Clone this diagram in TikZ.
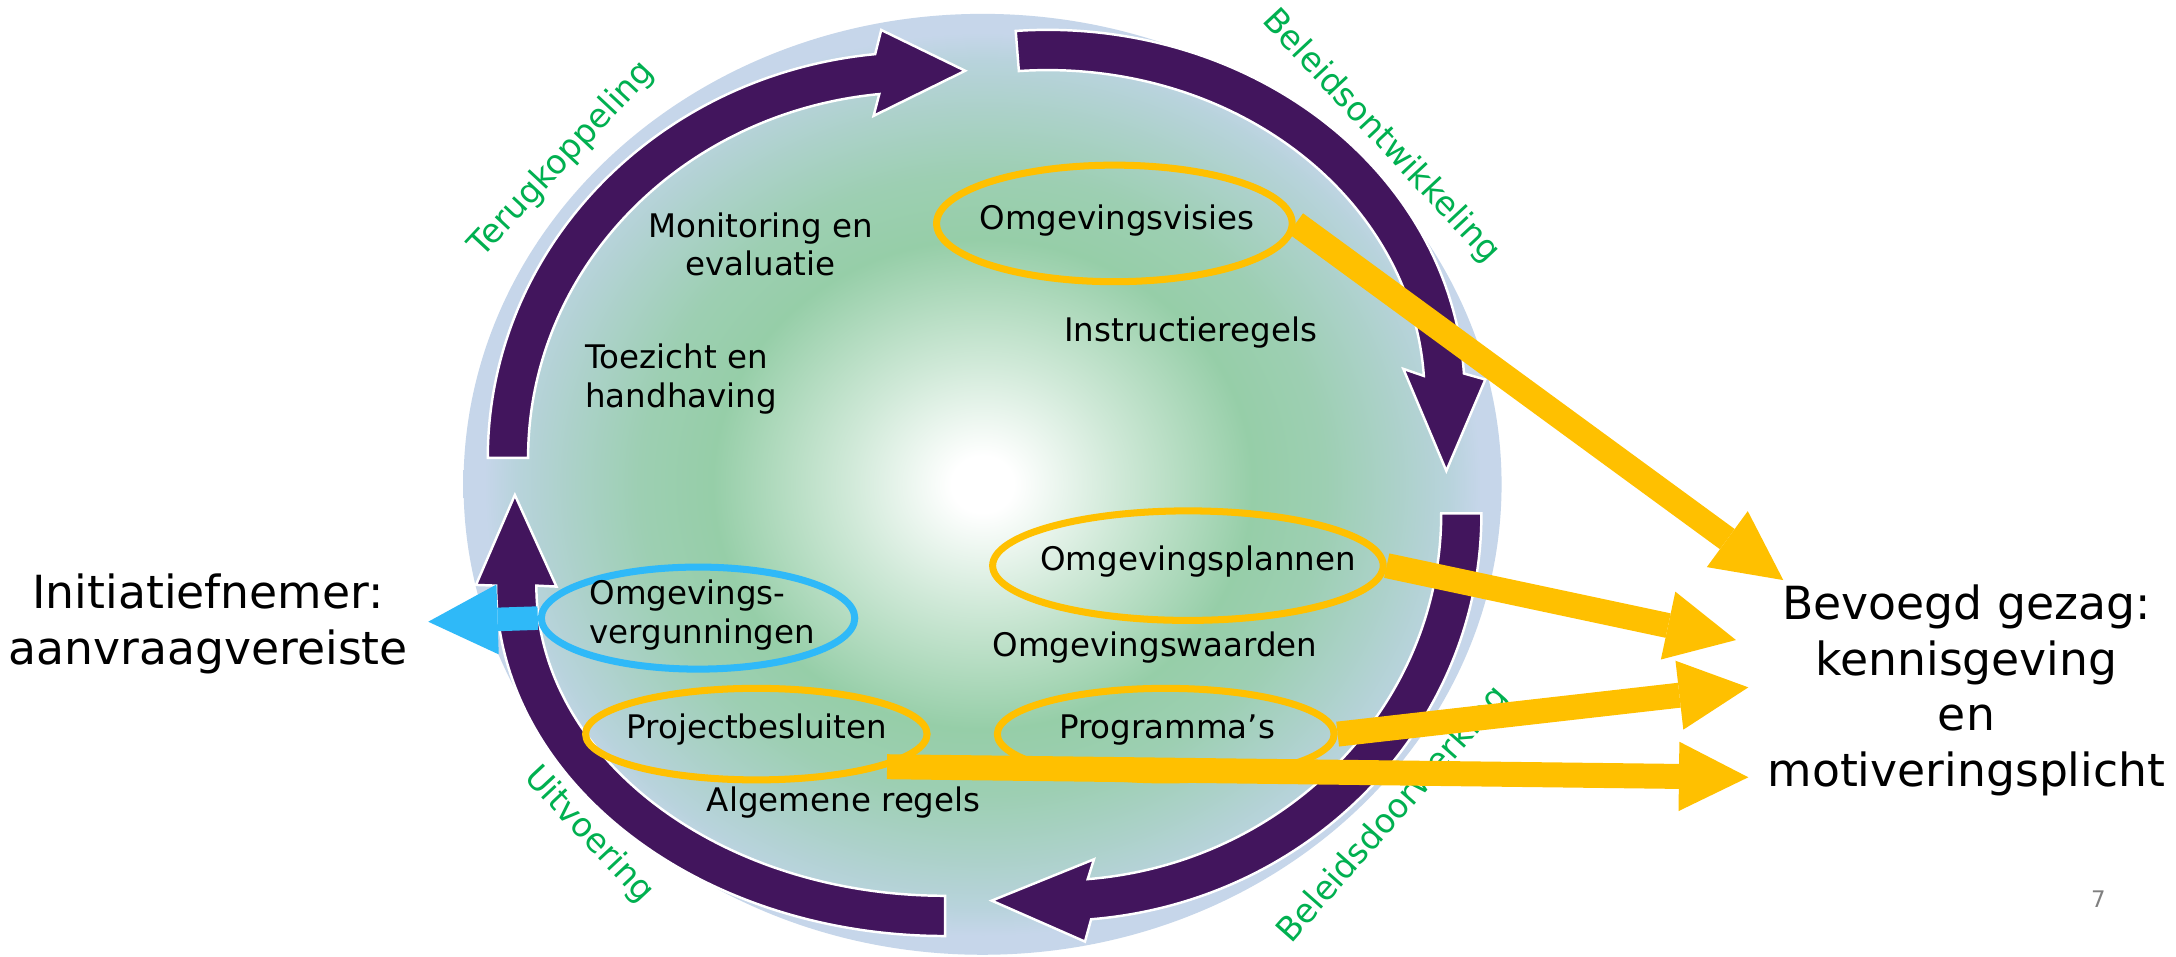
\documentclass[tikz,border=0pt]{standalone}
\usepackage{fontspec}
\setmainfont{DejaVu Sans}
\usetikzlibrary{shapes.geometric,arrows.meta}

\definecolor{cyclepurple}{RGB}{66,21,93}
\definecolor{linkyellow}{RGB}{255,192,0}
\definecolor{permitblue}{RGB}{47,185,248}
\definecolor{phasegreen}{RGB}{0,176,80}
\definecolor{discgreen}{RGB}{150,206,168}
\definecolor{discteal}{RGB}{184,211,220}
\definecolor{discrim}{RGB}{198,214,234}
\pgfdeclareradialshading{discshading}{\pgfpointorigin}{color(0bp)=(white); color(1.5bp)=(white); color(6.5bp)=(discgreen!45!white); color(13bp)=(discgreen); color(16.5bp)=(discgreen!80!discteal); color(20bp)=(discgreen!35!discteal); color(22.5bp)=(discteal); color(24bp)=(discrim); color(25bp)=(discrim); color(50bp)=(discrim)}

\begin{document}
\begin{tikzpicture}[x=0.013878cm, y=-0.013878cm,
        cyclearrow/.style={fill=cyclepurple, draw=white, line width=0.7pt, line join=miter},
        phase/.style={text=phasegreen, font=\fontsize{9.5}{11}\selectfont, inner sep=0pt},
        txt/.style={font=\fontsize{9.25}{11}\selectfont, inner sep=0pt},
        bigtxt/.style={font=\fontsize{13}{15.8}\selectfont, align=center, inner sep=0pt},
        ring/.style={ellipse, draw=linkyellow, line width=2pt, inner sep=0pt},
        yellowarrow/.style={draw=linkyellow, line width=0.25cm, -{Triangle[length=0.694cm, width=0.694cm, line width=0pt]}},
        bluearrow/.style={draw=permitblue, line width=0.236cm, -{Triangle[length=0.694cm, width=0.70cm, line width=0pt]}}
    ]
        % Background and disc
        \fill[white] (0,0) rectangle (1568,689);
        \shade[shading=discshading] (708,349) ellipse [x radius=374, y radius=339];

        % Cycle arrows
        \filldraw[cyclearrow] (351.5,330) arc[start angle=-180, end angle=-95.8, x radius=310.5, y radius=292.5]
            -- (635,21.6) -- (695.5,51) -- (629.5,83.5) -- (633.6,67.8)
            arc[start angle=-95.8, end angle=-180, x radius=281.5, y radius=263.5] -- cycle;
        \filldraw[cyclearrow] (731.9,22.3) arc[start angle=-94.4, end angle=-3.45, x radius=300.5, y radius=263.5]
            -- (1070.3,273.5) -- (1042.2,339.3) -- (1011.2,265.8) -- (1026,270.9)
            arc[start angle=-3.45, end angle=-94.4, x radius=271.5, y radius=234.5] -- cycle;
        \filldraw[cyclearrow] (1067.5,370) arc[start angle=0, end angle=85.1, x radius=307.5, y radius=293.5]
            -- (781.8,678.5) -- (714.6,649) -- (788.3,619.2) -- (783.8,633.5)
            arc[start angle=85.1, end angle=0, x radius=278.5, y radius=264.5] -- cycle;
        \filldraw[cyclearrow] (681,674.5) arc[start angle=90, end angle=180, x radius=323.5, y radius=252.5]
            -- (343,421.5) -- (371,356.7) -- (401,422.7) -- (386.5,422)
            arc[start angle=180, end angle=90, x radius=294.5, y radius=223.5] -- cycle;

        % Phase labels
        \node[phase, rotate=47] (terugkoppeling) at (405,115) {Terugkoppeling};
        \node[phase, rotate=-47] (ontwikkeling) at (995,98.5) {Beleidsontwikkeling};
        \node[phase, rotate=48.5] (doorwerking) at (1004,587.3) {Beleidsdoorwerking};
        \node[phase, rotate=-47] (uitvoering) at (424.2,601.7) {Uitvoering};

        % Instruments
        \node[txt, align=center] (monitoring) at (548,176) {Monitoring en\\evaluatie};
        \node[txt, align=left, anchor=west] (toezicht) at (421.3,273.3) {Toezicht en\\handhaving};
        \node[txt, anchor=base] (instructie) at (858,246.2) {Instructieregels};
        \node[txt, anchor=base] (waarden) at (832.3,473.2) {Omgevingswaarden};
        \node[txt, anchor=base] (regels) at (608,584.9) {Algemene regels};

        \node[ring, minimum width=3.558cm, minimum height=1.166cm] (visies) at (803,161) {};
        \node[txt, anchor=base] (visiestxt) at (805,165.7) {Omgevingsvisies};
        \node[ring, minimum width=3.908cm, minimum height=1.096cm] (plannen) at (856,407.6) {};
        \node[txt, anchor=base] (plannentxt) at (863.4,411.2) {Omgevingsplannen};
        \node[ring, draw=permitblue, minimum width=3.136cm, minimum height=1.021cm] (vergunningen) at (503,445.4) {};
        \node[txt, align=left, anchor=west] (vergunningentxt) at (424.3,443.2) {Omgevings-\\vergunningen};
        \node[ring, minimum width=3.417cm, minimum height=0.916cm] (besluiten) at (545,529) {};
        \node[txt, anchor=base] (besluitentxt) at (545.4,532) {Projectbesluiten};
        \node[ring, minimum width=3.370cm, minimum height=0.916cm] (programmas) at (840,529) {};
        \node[txt, anchor=base] (programmastxt) at (841,532) {Programma’s};

        % Outside parties
        \node[bigtxt] (initiatiefnemer) at (150,449.5) {Initiatiefnemer:\\aanvraagvereiste};
        \node[bigtxt] (gezag) at (1417,497.6) {Bevoegd gezag:\\kennisgeving\\en\\motiveringsplicht};

        \coordinate (aanvraag) at (308.6,448);
        \coordinate (gezag1) at (1285,418);
        \coordinate (gezag2) at (1250.9,461.2);
        \coordinate (gezag3) at (1259.8,495.3);
        \coordinate (gezag4) at (1259.8,560.1);

        \draw[yellowarrow] (visies.east) -- (gezag1);
        \draw[yellowarrow] (plannen.east) -- (gezag2);
        \draw[yellowarrow] (programmas.east) -- (gezag3);
        \draw[yellowarrow] (besluiten.-14.7) -- (gezag4);
        \draw[bluearrow] (vergunningen.west) -- (aanvraag);

        \node[font=\fontsize{6.5}{8}\selectfont, text=gray] (paginanr) at (1512,648) {7};
    \end{tikzpicture}
\end{document}
